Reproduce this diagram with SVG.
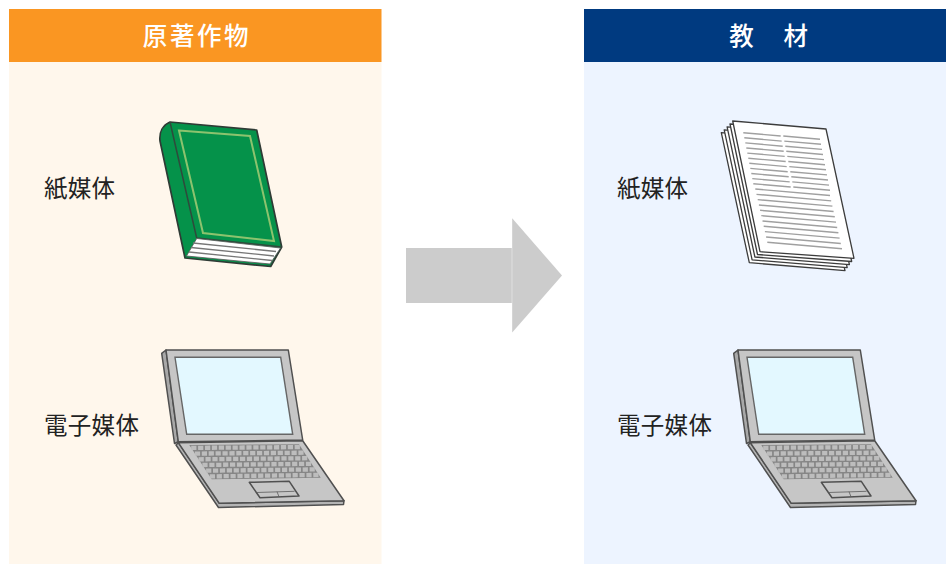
<svg xmlns="http://www.w3.org/2000/svg" width="946" height="564" viewBox="0 0 946 564">
<style>
text{font-family:"Noto Sans CJK JP","Noto Sans CJK SC",sans-serif}
.hd{fill:#fff;font-size:24.500px;font-weight:500;letter-spacing:2.600px;text-anchor:middle}
.lb{fill:#222;font-size:23.500px;letter-spacing:.3px}
.o{stroke:#505050;stroke-width:1.500;stroke-linejoin:round}
.k{fill:none;stroke:#bdbdbd;stroke-width:4.300;stroke-dasharray:5.200 1.700}
.sheet{fill:#fff;stroke:#3c3c3c;stroke-width:1.300;stroke-linejoin:round}
</style>
<defs>
<g id="laptop">
<path class="o" d="M219.300 503.300L178.300 442.700L176 445L218.500 507.500L343.500 504.500L344 500.700Z" fill="#b4b4b4"/>
<path class="o" d="M178.300 442.700L302.700 440.700L344 500.700L219.300 503.300Z" fill="#c6c6c6"/>
<path d="M189.300 445L299 444.300L320.700 477.700L211.700 479.300Z" fill="#868686"/>
<path class="k" d="M191.200 447.900L300.800 447.100M194.900 453.600L304.400 452.700M198.600 459.300L308 458.200M202.400 465L311.700 463.800M206.100 470.700L315.300 469.400M209.800 476.400L318.900 474.900"/>
<path class="o" d="M249.300 482.300L289.300 481.300L299 496L260 497.700Z" fill="#c6c6c6"/>
<path d="M256.500 492.500L294.500 491.300M277 491.700L279 496.700" fill="none" stroke="#5a5a5a" stroke-width=".8"/>
<path class="o" d="M166 350L161.700 353.300L174.500 443.500L178.300 441.700Z" fill="#a8a8a8"/>
<path class="o" d="M166 350L288.300 350L302.700 440L178.300 441.700Z" fill="#c6c6c6"/>
<path d="M175 357.300L280.700 357.300L292.700 434.300L186.700 434.300Z" fill="#e3f8ff" stroke="#666" stroke-width="1.400"/>
</g>
</defs>

<g id="panel-source">
<rect x="9" y="62" width="372.500" height="502" fill="#fff7ec"/>
<rect x="9" y="9" width="372.500" height="53" fill="#fa9622"/>
<text class="hd" x="197" y="45">原著作物</text>
</g>
<g id="panel-material">
<rect x="584" y="62" width="362" height="502" fill="#edf4ff"/>
<rect x="584" y="9" width="362" height="53" fill="#003a80"/>
<text class="hd" x="770" y="45">教　材</text>
</g>

<g id="source-paper">
<text class="lb" x="44" y="197">紙媒体</text>
<path d="M170 122C163 125 159 132 160 141L185 258L270.700 266.500L281.700 247L256.700 130Z" fill="#05924a" stroke="#2f3b35" stroke-width="1.700" stroke-linejoin="round"/>
<path d="M170 122L196.700 238L281.700 247" fill="none" stroke="#2f4a3c" stroke-width="1.500"/>
<path d="M196.700 238.500L186.500 256L270 264L280.500 248Z" fill="#fff" stroke="#555" stroke-width=".8"/>
<path d="M193 243L276 251.500M191 247.500L274 256M189 252L272 260.500" stroke="#777" stroke-width="1.300" fill="none"/>
<path d="M179 130.500L250 136L274 241L203 233Z" fill="none" stroke="#8cc36e" stroke-width="2"/>
</g>
<g id="source-digital">
<text class="lb" x="44" y="434">電子媒体</text>
<use href="#laptop"/>
</g>

<g id="connectors">
<g id="main-arrow">
<rect x="406" y="248" width="105.800" height="55" fill="#ccc"/>
<path d="M512.200 218.300L562 275.500L512.200 332.500Z" fill="#ccc"/>
</g>
</g>

<g id="material-paper">
<text class="lb" x="617" y="197">紙媒体</text>
<path class="sheet" d="M721.300 132.700L815 141L845 270.700L749.300 262.700Z"/>
<path class="sheet" d="M724.200 129.800L818 138L847.200 267.700L752.100 259.800Z"/>
<path class="sheet" d="M727.100 126.900L821 135L849.400 264.700L754.900 257Z"/>
<path class="sheet" d="M730 124L823.500 132L851.700 261.500L757.500 254.500Z"/>
<path class="sheet" d="M732.700 121L826 129L854 258.300L760 251.700Z"/>
<path d="M743.300 132.700l37.400 3.300m-36.400 1.800l37.400 3.300m-36.400 1.800l37.400 3.300m-36.400 1.800l37.400 3.300m-36.400 1.800l37.400 3.300m-36.400 1.800l37.400 3.300m-36.400 1.800l37.400 3.300m-36.400 1.800l37.400 3.300m-36.400 1.800l37.400 3.300m-36.400 1.800l37.400 3.300m-36.400 1.800l37.400 3.300M783.300 136l36.700 3.200m-35.700 1.900l36.700 3.200m-35.700 1.900l36.700 3.200m-35.700 1.900l36.700 3.200m-35.700 1.900l36.700 3.200m-35.700 1.900l36.700 3.200m-35.700 1.900l36.700 3.200m-35.700 1.900l36.700 3.200m-35.700 1.900l36.700 3.200m-35.700 1.900l36.700 3.200m-35.700 1.900l36.700 3.200M755.300 189l74.700 6.500m-73.500 -1.170l74.700 6.500m-73.500 -1.170l74.700 6.500m-73.500 -1.170l74.700 6.500m-73.500 -1.170l74.700 6.500m-73.500 -1.170l74.700 6.500m-73.500 -1.170l74.700 6.500m-73.500 -1.170l74.700 6.500m-73.500 -1.170l74.700 6.500m-73.500 -1.170l74.700 6.500m-73.500 -1.170l74.700 6.500" fill="none" stroke="#a0a0a0" stroke-width="1.400"/>
</g>
<g id="material-digital">
<text class="lb" x="617" y="434">電子媒体</text>
<use href="#laptop" x="572"/>
</g>
</svg>
